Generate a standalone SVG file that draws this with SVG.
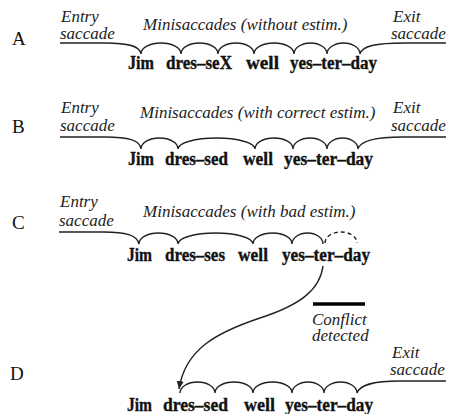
<svg xmlns="http://www.w3.org/2000/svg" width="450" height="414" viewBox="0 0 450 414">
<style>
.lbl{font-family:"Liberation Serif","Times New Roman",serif;font-size:17px;font-style:italic;fill:#222}
.row{font-family:"Liberation Serif","Times New Roman",serif;font-size:19px;fill:#111}
.w{font-family:"Liberation Serif","Times New Roman",serif;font-size:18px;font-weight:bold;fill:#111;stroke:#111;stroke-width:0.35}
.ln{fill:none;stroke:#222;stroke-width:1.4}
.dash{fill:none;stroke:#222;stroke-width:1.4;stroke-dasharray:4 3}
</style>
<defs>
<marker id="ah" markerUnits="userSpaceOnUse" markerWidth="9" markerHeight="8" refX="8" refY="4" orient="auto">
<path d="M0,0.5 L8,4 L0,7.5 z" fill="#222"/>
</marker>
</defs>
<rect width="450" height="414" fill="#fff"/>

<g id="row-A">
<text class="row" x="12" y="45">A</text>
<text class="lbl" x="61" y="22">Entry</text>
<text class="lbl" x="60" y="39">saccade</text>
<text class="lbl" x="143" y="30">Minisaccades (without estim.)</text>
<text class="lbl" x="393" y="22">Exit</text>
<text class="lbl" x="391" y="39">saccade</text>
<path class="ln" d="M60 43 H105 C128 43 140 46 141 54 A20 11 0 0 1 181 54 A18.5 11 0 0 1 218 54 A18 11 0 0 1 254 54 A20 11 0 0 1 294 54 A16.5 11 0 0 1 327 54 A16.5 11 0 0 1 360 54 C362 46 375 43 405 43 H446"/>
<text class="w" x="128" y="69" textLength="26" lengthAdjust="spacingAndGlyphs">Jim</text>
<text class="w" x="166" y="69" textLength="66" lengthAdjust="spacingAndGlyphs">dres–seX</text>
<text class="w" x="246" y="69" textLength="33" lengthAdjust="spacingAndGlyphs">well</text>
<text class="w" x="290" y="69" textLength="87" lengthAdjust="spacingAndGlyphs">yes–ter–day</text>
</g>

<g id="row-B">
<text class="row" x="12" y="133">B</text>
<text class="lbl" x="61" y="113">Entry</text>
<text class="lbl" x="60" y="131">saccade</text>
<text class="lbl" x="140" y="118">Minisaccades (with correct estim.)</text>
<text class="lbl" x="393" y="113">Exit</text>
<text class="lbl" x="391" y="131">saccade</text>
<path class="ln" d="M60 137 H105 C128 137 140 140 141 149 A18.5 11 0 0 1 178 149 A38.5 11 0 0 1 255 149 A19 11 0 0 1 293 149 A17 11 0 0 1 327 149 A15.5 11 0 0 1 358 149 C360 141 373 137 403 137 H446"/>
<text class="w" x="128" y="165" textLength="26" lengthAdjust="spacingAndGlyphs">Jim</text>
<text class="w" x="165" y="165" textLength="63" lengthAdjust="spacingAndGlyphs">dres–sed</text>
<text class="w" x="243" y="165" textLength="30" lengthAdjust="spacingAndGlyphs">well</text>
<text class="w" x="284" y="165" textLength="89" lengthAdjust="spacingAndGlyphs">yes–ter–day</text>
</g>

<g id="row-C">
<text class="row" x="12" y="229">C</text>
<text class="lbl" x="60" y="207">Entry</text>
<text class="lbl" x="59" y="226">saccade</text>
<text class="lbl" x="143" y="217">Minisaccades (with bad estim.)</text>
<path class="ln" d="M59 232 H103 C126 232 137 235 139 244 A19.5 11 0 0 1 178 244 A37.5 11 0 0 1 253 244 A19.5 11 0 0 1 292 244 A15.5 11 0 0 1 323 244"/>
<path class="dash" d="M325 243 A16 11 0 0 1 357 243"/>
<text class="w" x="127" y="261" textLength="25" lengthAdjust="spacingAndGlyphs">Jim</text>
<text class="w" x="165" y="261" textLength="60" lengthAdjust="spacingAndGlyphs">dres–ses</text>
<text class="w" x="238" y="261" textLength="30" lengthAdjust="spacingAndGlyphs">well</text>
<text class="w" x="282" y="261" textLength="88" lengthAdjust="spacingAndGlyphs">yes–ter–day</text>
</g>

<g id="conflict">
<line x1="313" y1="304" x2="365" y2="304" stroke="#000" stroke-width="3.5"/>
<text class="lbl" x="312" y="325">Conflict</text>
<text class="lbl" x="312" y="341">detected</text>
</g>

<g id="row-D">
<text class="row" x="10" y="380">D</text>
<text class="lbl" x="392" y="358">Exit</text>
<text class="lbl" x="390" y="375">saccade</text>
<path class="ln" d="M180 393 A17.5 11 0 0 1 215 393 A19 11 0 0 1 253 393 A19.5 11 0 0 1 292 393 A16 11 0 0 1 324 393 A16.5 11 0 0 1 357 393 C360 385 372 381 400 381 H446"/>
<text class="w" x="127" y="411" textLength="25" lengthAdjust="spacingAndGlyphs">Jim</text>
<text class="w" x="163" y="411" textLength="65" lengthAdjust="spacingAndGlyphs">dres–sed</text>
<text class="w" x="244" y="411" textLength="31" lengthAdjust="spacingAndGlyphs">well</text>
<text class="w" x="285" y="411" textLength="88" lengthAdjust="spacingAndGlyphs">yes–ter–day</text>
</g>

<g id="connectors">
<path class="ln" d="M323 266 C320 290 300 305 260 318 C215 333 185 350 179 389" marker-end="url(#ah)"/>
</g>
</svg>
